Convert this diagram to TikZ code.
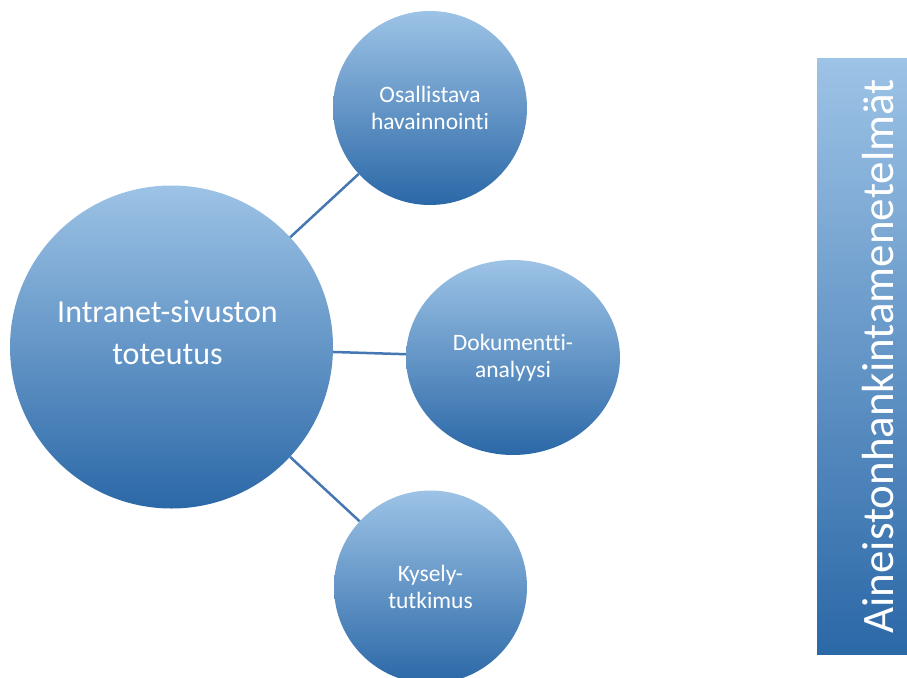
\documentclass[tikz,border=0pt]{standalone}
\usepackage{fontspec}
\setmainfont{Carlito}[Ligatures=NoCommon]
\usetikzlibrary{shapes.geometric}
\definecolor{gtop}{RGB}{157,195,230}
\definecolor{gmid}{RGB}{88,154,214}
\definecolor{gbot}{RGB}{43,104,167}
\definecolor{linkc}{RGB}{70,119,179}
\begin{document}
\begin{tikzpicture}[x=1pt,y=-1pt,
  grad/.style={inner sep=0pt,draw=none,top color=gtop,middle color=gmid,bottom color=gbot},
  bubble/.style={grad,circle,text=white,align=center,font=\fontsize{23.5}{27.5}\selectfont},
  bigtext/.style={text=white,align=center,font=\fontsize{32}{41.3}\selectfont},
  sidetext/.style={text=white,font=\fontsize{45}{50}\selectfont},
  link/.style={draw=linkc,line width=2.5pt}]
\useasboundingbox (0,0) rectangle (907,677);
% circles
\node[grad,circle,minimum size=323pt] (main) at (171.5,347) {};
\node[bigtext] (maintext) at (167.5,332.5) {Intranet-sivuston\\toteutus};
\node[bubble,minimum size=194pt] (obs) at (430,108) {Osallistava\\havainnointi};
\node[bubble,ellipse,minimum width=214pt,minimum height=195pt] (doc) at (513,357.5) {Dokumentti-\\analyysi};
\node[bubble,minimum size=193pt] (kys) at (430.5,587) {Kysely-\\tutkimus};
% connectors
\draw[link] (main) -- (obs);
\draw[link] (main) -- (doc);
\draw[link] (main) -- (kys);
% side bar
\node[grad,rectangle,minimum width=90pt,minimum height=596pt] (side) at (862,356.5) {};
\node[sidetext,rotate=90,anchor=base] (sidelabel) at (893,356.5) {Aineistonhankintamenetelmät};
\end{tikzpicture}
\end{document}
